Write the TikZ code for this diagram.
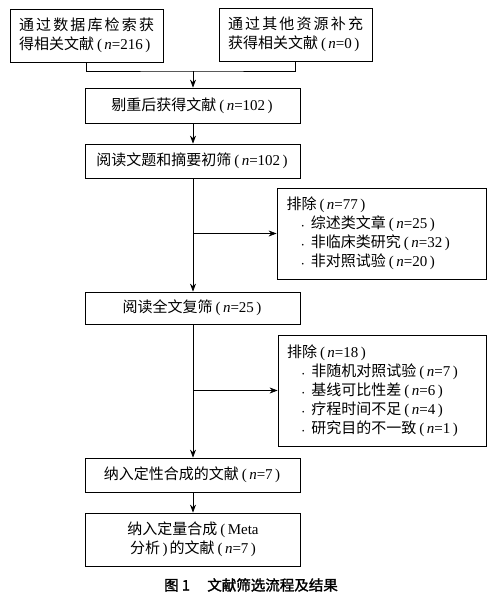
\documentclass[tikz,border=0pt]{standalone}
\usepackage{fontspec}
\setmainfont{Liberation Serif}
\newfontfamily\cjk{Noto Sans CJK SC}
\newfontfamily\cjkbf[FakeBold=1.6]{Noto Sans CJK SC}
\usetikzlibrary{arrows.meta,positioning}
\XeTeXlinebreaklocale "zh"
\XeTeXlinebreakskip=0pt plus 2pt
\newcommand{\cnt}[1]{\hspace{3pt}{\rmfamily(\hspace{2.5pt}\textit{n}=#1\hspace{2.5pt})}\hspace{2pt}}
\newcommand{\itm}[1]{\hspace*{15pt}{\rmfamily\scriptsize\textbullet}\hspace{7pt}#1}
\tikzset{
  box/.style={draw, line width=0.8pt, minimum width=215pt, inner sep=0pt, align=center, font=\fontsize{15}{19}\selectfont\cjk},
  srcbox/.style={box, minimum width=153pt, minimum height=53pt, text width=135pt, align=justify},
  exbox/.style={draw, line width=0.8pt, inner xsep=9pt, inner ysep=0pt, text width=190pt, align=left, font=\fontsize{15}{19}\selectfont\cjk},
  arr/.style={-{Stealth[length=8pt,width=6pt]}, line width=0.8pt},
}
\begin{document}
\begin{tikzpicture}[x=1pt,y=-1pt]
  \useasboundingbox (0,0) rectangle (502,602);
  \node[srcbox] (db) at (86.5,35.5) {通过数据库检索获\linebreak\mbox{得相关文献\cnt{216}}};
  \node[srcbox] (other) at (295.5,34.5) {通过其他资源补充\linebreak\mbox{获得相关文献\cnt{0}}};
  \node[box, minimum height=35pt] (dedup) at (193,105.5) {剔重后获得文献\cnt{102}};
  \node[box, minimum height=34pt] (title) at (193,161) {阅读文题和摘要初筛\cnt{102}};
  \node[exbox, minimum width=209pt, minimum height=91pt] (ex1) at (381.5,233.5) {排除\cnt{77}\\
    \itm{综述类文章\cnt{25}}\\
    \itm{非临床类研究\cnt{32}}\\
    \itm{非对照试验\cnt{20}}};
  \node[box, minimum height=32pt] (full) at (193,308) {阅读全文复筛\cnt{25}};
  \node[exbox, minimum width=208pt, minimum height=111pt] (ex2) at (382,390.5) {排除\cnt{18}\\
    \itm{非随机对照试验\cnt{7}}\\
    \itm{基线可比性差\cnt{6}}\\
    \itm{疗程时间不足\cnt{4}}\\
    \itm{研究目的不一致\cnt{1}}};
  \node[box, minimum height=34pt] (qual) at (193,475) {纳入定性合成的文献\cnt{7}};
  \node[box, minimum height=53pt] (meta) at (193,539.5) {纳入定量合成\hspace{3pt}{\rmfamily(\hspace{2.5pt}Meta}\\分析{\rmfamily\hspace{2.5pt})}\hspace{2pt}的文献\cnt{7}};
  \node[font=\fontsize{14.5}{16}\selectfont\cjkbf] (cap) at (251,585) {图 1\hspace{1.2em}文献筛选流程及结果};
  % connectors
  \coordinate (mrg) at (193,71);
  \coordinate (br1) at (title.south |- ex1.west);
  \coordinate (br2) at (full.south |- ex2.west);
  \draw[line width=0.8pt] (db.south) |- (mrg) -| (other.south);
  \draw[arr] (mrg) -- (dedup);
  \draw[arr] (dedup) -- (title);
  \draw[arr] (title) -- (full);
  \draw[arr] (br1) -- (ex1.west);
  \draw[arr] (full) -- (qual);
  \draw[arr] (br2) -- (ex2.west);
  \draw[arr] (qual) -- (meta);
\end{tikzpicture}
\end{document}
